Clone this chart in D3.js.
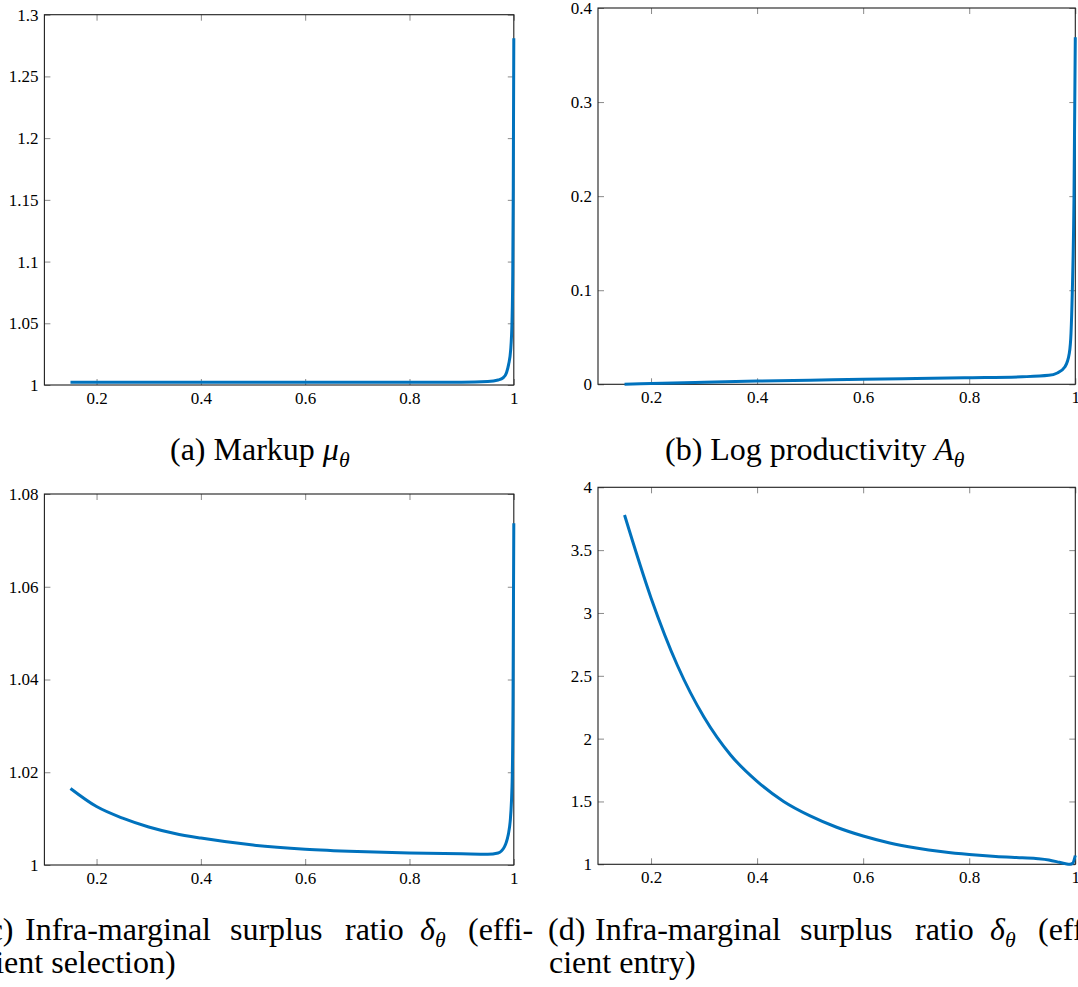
<!DOCTYPE html>
<html><head><meta charset="utf-8">
<script src="https://cdn.jsdelivr.net/npm/d3@7"></script>
<style>
html,body{margin:0;padding:0;background:#fff;}
svg{display:block;}
</style></head><body>
<svg id="chart" width="1078" height="987"></svg>
<script>
// ---------------- data ----------------
const xDomain = [0.1, 1];
const xTicks = [0.2, 0.4, 0.6, 0.8, 1];
const xTickLabels = ["0.2", "0.4", "0.6", "0.8", "1"];

// (a) Markup
const markupX = [0.15, 0.3, 0.5, 0.7, 0.9, 0.95, 0.97, 0.98, 0.986, 0.990, 0.994, 0.9966, 0.998, 0.999, 1.0];
const markupY = [1.0022, 1.0022, 1.0022, 1.0022, 1.0023, 1.0028, 1.0040, 1.0060, 1.0100, 1.0165, 1.0284, 1.0520, 1.09, 1.16, 1.281];
const markupYTicks = [1, 1.05, 1.1, 1.15, 1.2, 1.25, 1.3];
const markupYTickLabels = ["1", "1.05", "1.1", "1.15", "1.2", "1.25", "1.3"];

// (b) Log productivity
const prodX = [0.15, 0.2, 0.3, 0.4, 0.5, 0.6, 0.7, 0.8, 0.9, 0.95, 0.965, 0.9806, 0.9887, 0.9919, 0.9943, 0.9975, 1.0];
const prodY = [0.0, 0.0008, 0.0022, 0.0035, 0.0044, 0.0053, 0.0062, 0.0070, 0.0080, 0.0095, 0.0117, 0.0187, 0.033, 0.0542, 0.097, 0.196, 0.369];
const prodYTicks = [0, 0.1, 0.2, 0.3, 0.4];
const prodYTickLabels = ["0", "0.1", "0.2", "0.3", "0.4"];

// (c) Infra-marginal surplus ratio (efficient selection)
const selX = [0.15, 0.2, 0.25, 0.3, 0.35, 0.4, 0.5, 0.6, 0.7, 0.8, 0.9, 0.95, 0.97, 0.982, 0.992, 0.9966, 0.9985, 1.0];
const selY = [1.0165, 1.0126, 1.0101, 1.0082, 1.0068, 1.0058, 1.0043, 1.0034, 1.0029, 1.0026, 1.0024, 1.0023, 1.0026, 1.0039, 1.0083, 1.0169, 1.035, 1.0737];
const selYTicks = [1, 1.02, 1.04, 1.06, 1.08];
const selYTickLabels = ["1", "1.02", "1.04", "1.06", "1.08"];

// (d) Infra-marginal surplus ratio (efficient entry)
const entryX = [0.15, 0.2, 0.25, 0.3, 0.35, 0.4, 0.45, 0.5, 0.55, 0.6, 0.65, 0.7, 0.75, 0.8, 0.85, 0.9, 0.93, 0.95, 0.97, 0.98, 0.99, 0.995, 1.0];
const entryY = [3.78, 3.12, 2.58, 2.17, 1.87, 1.66, 1.50, 1.385, 1.295, 1.225, 1.17, 1.13, 1.10, 1.078, 1.062, 1.052, 1.045, 1.035, 1.016, 1.006, 1.0, 1.008, 1.07];
const entryYTicks = [1, 1.5, 2, 2.5, 3, 3.5, 4];
const entryYTickLabels = ["1", "1.5", "2", "2.5", "3", "3.5", "4"];

// ---------------- layout ----------------
const FONT = "'Liberation Serif', 'Times New Roman', serif";
const LINE_COLOR = "#0072BD";
const TICK_COLOR = "#8a8a8a";
const FRAME_COLOR = "#1e1e1e";

const panels = [
  {xs: markupX, ys: markupY, yDomain: [1, 1.3], yTicks: markupYTicks, yLabels: markupYTickLabels,
   box: {left: 44.4, right: 513.8, top: 14.7, bottom: 385}},
  {xs: prodX, ys: prodY, yDomain: [0, 0.4], yTicks: prodYTicks, yLabels: prodYTickLabels,
   box: {left: 598, right: 1075.3, top: 8, bottom: 384.3}},
  {xs: selX, ys: selY, yDomain: [1, 1.08], yTicks: selYTicks, yLabels: selYTickLabels,
   box: {left: 44.4, right: 513.8, top: 494, bottom: 865}},
  {xs: entryX, ys: entryY, yDomain: [1, 4], yTicks: entryYTicks, yLabels: entryYTickLabels,
   box: {left: 598, right: 1075.3, top: 487.3, bottom: 864.3}}
];

const svg = d3.select("#chart");

function styleAxis(g) {
  g.select(".domain").remove();
  g.attr("font-family", FONT).attr("font-size", 17);
  g.selectAll(".tick line").attr("stroke", TICK_COLOR).attr("stroke-width", 1);
  g.selectAll(".tick text").attr("fill", "#000");
}

panels.forEach(p => {
  const b = p.box;
  const x = d3.scaleLinear().domain(xDomain).range([b.left, b.right]);
  const y = d3.scaleLinear().domain(p.yDomain).range([b.bottom, b.top]);
  const g = svg.append("g");

  g.append("g").attr("transform", `translate(0,${b.bottom})`)
    .call(d3.axisBottom(x).tickValues(xTicks).tickFormat((d, i) => xTickLabels[i])
      .tickSizeInner(-6).tickSizeOuter(0).tickPadding(6.5))
    .call(styleAxis);
  g.append("g").attr("transform", `translate(0,${b.top})`)
    .call(d3.axisTop(x).tickValues(xTicks).tickFormat("")
      .tickSizeInner(-6).tickSizeOuter(0))
    .call(styleAxis);
  g.append("g").attr("transform", `translate(${b.left},0)`)
    .call(d3.axisLeft(y).tickValues(p.yTicks).tickFormat((d, i) => p.yLabels[i])
      .tickSizeInner(-6).tickSizeOuter(0).tickPadding(6))
    .call(styleAxis);
  g.append("g").attr("transform", `translate(${b.right},0)`)
    .call(d3.axisRight(y).tickValues(p.yTicks).tickFormat("")
      .tickSizeInner(-6).tickSizeOuter(0))
    .call(styleAxis);

  g.append("rect")
    .attr("x", b.left).attr("y", b.top)
    .attr("width", b.right - b.left).attr("height", b.bottom - b.top)
    .attr("fill", "none").attr("stroke", FRAME_COLOR).attr("stroke-width", 1.1);

  const line = d3.line().x(d => x(d[0])).y(d => y(d[1])).curve(d3.curveMonotoneX);
  g.append("path")
    .datum(d3.zip(p.xs, p.ys))
    .attr("d", line)
    .attr("fill", "none")
    .attr("stroke", LINE_COLOR)
    .attr("stroke-width", 3)
    .attr("stroke-linejoin", "round");
});

// ---------------- captions ----------------
const CAP_SIZE = 32;
function rich(x, y, segs) {
  const t = svg.append("text")
    .attr("x", x).attr("y", y)
    .attr("font-family", FONT).attr("font-size", CAP_SIZE).attr("fill", "#000");
  segs.forEach(s => {
    const ts = t.append("tspan").text(s.t);
    if (s.it) ts.attr("font-style", "italic");
    if (s.sub) ts.attr("font-size", CAP_SIZE * 0.68).attr("dy", "0.3em");
  });
  return t;
}
const theta = {t: "θ", it: true, sub: true};

rich(170, 460, [{t: "(a) Markup "}, {t: "μ", it: true}, theta]);
rich(665, 460, [{t: "(b) Log productivity "}, {t: "A", it: true}, theta]);

// justified first lines of (c) and (d): place words
const capLine1 = [
  {dx: 0, segs: null},
  {dx: 47, segs: [{t: "Infra-marginal"}]},
  {dx: 252, segs: [{t: "surplus"}]},
  {dx: 367, segs: [{t: "ratio"}]},
  {dx: 442, segs: [{t: "δ", it: true}, theta]},
  {dx: 490, segs: [{t: "(effi-"}]}
];
function justified(x0, y, label) {
  capLine1.forEach((w, i) => {
    rich(x0 + w.dx, y, i === 0 ? [{t: label}] : w.segs);
  });
}
justified(-22, 940, "(c)");
rich(-19, 973, [{t: "cient selection)"}]);
justified(548, 940, "(d)");
rich(549, 973, [{t: "cient entry)"}]);
</script>
</body></html>
